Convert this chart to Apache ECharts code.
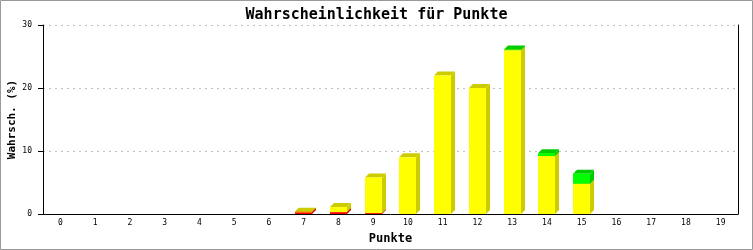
<!DOCTYPE html>
<html><head><meta charset="utf-8">
<script src="https://cdn.jsdelivr.net/npm/echarts@6/dist/echarts.min.js"></script>
<style>html,body{margin:0;padding:0;background:#fff}#c{width:753px;height:250px}</style>
</head><body><div id="c"></div>
<script>
const categories = ['0','1','2','3','4','5','6','7','8','9','10','11','12','13','14','15','16','17','18','19'];
const redValues    = [0,0,0,0,0,0,0,0.3,0.3,0.15,0,0,0,0,0,0,0,0,0,0];
const yellowValues = [0,0,0,0,0,0,0,0.05,0.8,5.65,9.0,22.0,20.0,26.0,9.2,4.8,0,0,0,0];
const greenValues  = [0,0,0,0,0,0,0,0,0,0,0,0,0,0.1,0.45,1.6,0,0,0,0];
const yTicks = [0,10,20,30];

const layers = [
  {name:'rot', values:redValues, front:'#ff0000', dark:'#cc0000'},
  {name:'gelb', values:yellowValues, front:'#ffff00', dark:'#cccc00'},
  {name:'grün', values:greenValues, front:'#00ff00', dark:'#00cc00'}
];
const base = categories.map(()=>0);
const series = layers.map(L => {
  const data = categories.map((c,i)=>{
    const s = base[i], e = s + L.values[i];
    base[i] = e;
    return [i, s, e];
  });
  return {
    type:'custom', name:L.name, data:data,
    encode:{x:0, y:[1,2]},
    renderItem:function(params, api){
      const s = api.value(1), e = api.value(2);
      if (e - s <= 0) return null;
      const cx = api.coord([api.value(0), 0])[0];
      const y0 = api.coord([api.value(0), s])[1];
      const y1 = api.coord([api.value(0), e])[1];
      const w = 17, d = 4;
      const l = Math.round(cx - w/2), r = l + w;
      return {type:'group', children:[
        {type:'polygon', shape:{points:[[r,y1],[r+d,y1-d],[r+d,y0-d],[r,y0]]}, style:{fill:L.dark}},
        {type:'polygon', shape:{points:[[l,y1],[l+d,y1-d],[r+d,y1-d],[r,y1]]}, style:{fill:L.dark}},
        {type:'rect', shape:{x:l, y:y1, width:w, height:Math.max(y0-y1,0.5)}, style:{fill:L.front}}
      ]};
    }
  };
});

const mono = 'DejaVu Sans Mono';
const chart = echarts.init(document.getElementById('c'), null, {renderer:'canvas'});
chart.setOption({
  animation:false,
  backgroundColor:'#fff',
  title:{text:'Wahrscheinlichkeit für Punkte', left:'center', top:3,
    textStyle:{fontFamily:mono, fontSize:15, fontWeight:'bold', color:'#000'}},
  grid:{left:43, right:15, top:25, bottom:36, containLabel:false, outerBoundsMode:'none'},
  xAxis:{type:'category', data:categories, name:'Punkte', nameLocation:'middle', nameGap:19, nameMoveOverlap:false,
    nameTextStyle:{fontFamily:mono, fontSize:12, fontWeight:'bold', color:'#000'},
    axisLine:{lineStyle:{color:'#000', width:1}}, axisTick:{show:false},
    axisLabel:{fontFamily:mono, fontSize:8, color:'#000', margin:5}},
  yAxis:[{type:'value', min:0, max:30, interval:10, name:'Wahrsch. (%)', nameLocation:'middle', nameGap:25, nameMoveOverlap:false,
    nameTextStyle:{fontFamily:mono, fontSize:11, fontWeight:'bold', color:'#000'},
    axisLine:{show:true, lineStyle:{color:'#000', width:1}},
    axisTick:{show:true, length:5, lineStyle:{color:'#000'}},
    axisLabel:{fontFamily:mono, fontSize:8, color:'#000', margin:11,
      formatter:v => yTicks.includes(v) ? String(v) : ''},
    splitLine:{show:true, lineStyle:{color:'#c0c0c0', type:[2,4], width:1}}},
   {type:'value', min:0, max:30, interval:10, position:'right',
    axisLine:{show:true, lineStyle:{color:'#000', width:1}}, axisTick:{show:false}, axisLabel:{show:false}, splitLine:{show:false}}],
  graphic:[{type:'rect', shape:{x:0.5, y:0.5, width:752, height:249}, style:{fill:null, stroke:'#999', lineWidth:1}, silent:true}],
  series:series
});
</script></body></html>
